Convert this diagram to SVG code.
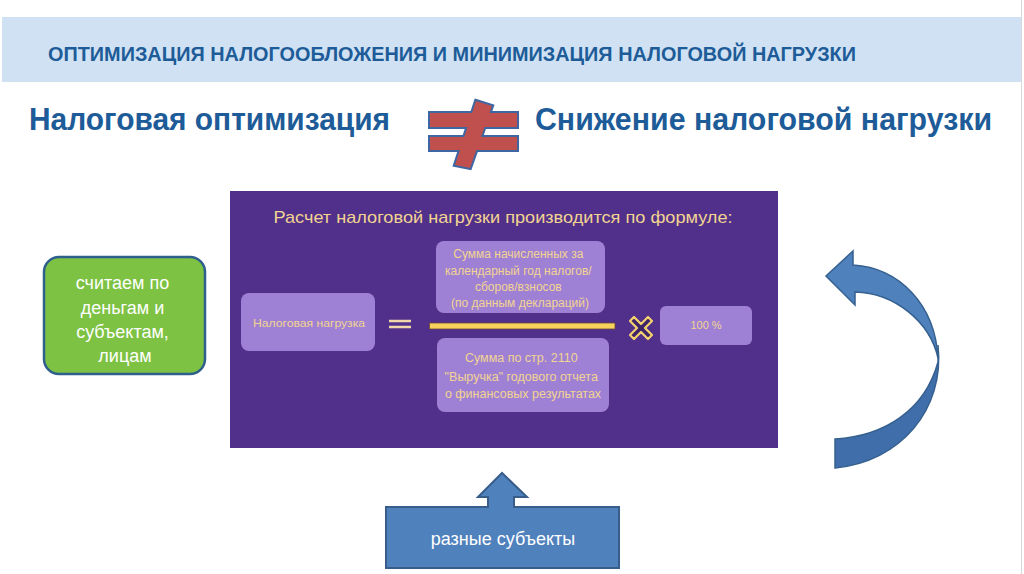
<svg xmlns="http://www.w3.org/2000/svg" width="1024" height="574" viewBox="0 0 1024 574">
<style>
.hdr{font-family:"Liberation Sans",Arial,sans-serif;font-weight:bold;fill:#1d5c98}
.gold{font-family:"Liberation Sans",Arial,sans-serif;fill:#f2d492;text-anchor:middle}
.lbox{fill:#9e81d4}
.wt{font-family:"Liberation Sans",Arial,sans-serif;fill:#ffffff;text-anchor:middle}
</style>
<rect x="0" y="0" width="1024" height="574" fill="#ffffff"/>
<line x1="1021.5" y1="0" x2="1021.5" y2="574" stroke="#d8d8d8" stroke-width="1"/>
<g id="header">
<rect x="2" y="17" width="1019" height="65" fill="#cfe1f3"/>
<text class="hdr" x="48" y="61" font-size="20" textLength="808" lengthAdjust="spacingAndGlyphs">ОПТИМИЗАЦИЯ НАЛОГООБЛОЖЕНИЯ И МИНИМИЗАЦИЯ НАЛОГОВОЙ НАГРУЗКИ</text>
</g>
<g id="tax-optimization">
<text class="hdr" x="29" y="130" font-size="32" textLength="361" lengthAdjust="spacingAndGlyphs">Налоговая оптимизация</text>
</g>
<g id="not-equal">
<g fill="#c0504d" stroke="#3d66a3" stroke-width="4" stroke-linejoin="miter">
<rect x="430" y="113" width="87" height="14"/>
<rect x="430" y="137" width="87" height="13"/>
<polygon points="476,101 492,106 470,168 455,165"/>
</g>
<g fill="#c0504d">
<rect x="430" y="113" width="87" height="14"/>
<rect x="430" y="137" width="87" height="13"/>
<polygon points="476,101 492,106 470,168 455,165"/>
</g>
</g>
<g id="tax-burden-reduction">
<text class="hdr" x="535" y="130" font-size="32" textLength="457" lengthAdjust="spacingAndGlyphs">Снижение налоговой нагрузки</text>
</g>
<g id="formula-panel">
<rect x="230" y="191" width="548" height="257" fill="#50308a"/>
<text class="gold" x="503" y="223" font-size="17" textLength="459" lengthAdjust="spacingAndGlyphs" fill="#f5d89c">Расчет налоговой нагрузки производится по формуле:</text>
<rect class="lbox" x="241" y="293" width="134" height="58" rx="8"/>
<text class="gold" x="309" y="327" font-size="11.5" textLength="112" lengthAdjust="spacingAndGlyphs">Налоговая нагрузка</text>
<line x1="389" y1="321" x2="411" y2="321" stroke="#f0d6a8" stroke-width="2.5"/>
<line x1="389" y1="327" x2="411" y2="327" stroke="#f0d6a8" stroke-width="2.5"/>
<rect class="lbox" x="436" y="241" width="169" height="72" rx="8"/>
<text class="gold" font-size="12">
<tspan x="520" y="258">Сумма начисленных за</tspan>
<tspan x="520" y="275">календарный год налогов/</tspan>
<tspan x="520" y="291">сборов/взносов</tspan>
<tspan x="520" y="307">(по данным деклараций)</tspan>
</text>
<rect x="429.5" y="323" width="185.5" height="6" fill="#f7d35b" stroke="#6b4a3a" stroke-width="0.8"/>
<rect class="lbox" x="437" y="338" width="172" height="74" rx="8"/>
<text class="gold" font-size="12.5">
<tspan x="523" y="362">Сумма по стр. 2110</tspan>
<tspan x="523" y="381">"Выручка" годового отчета</tspan>
<tspan x="523" y="398">о финансовых результатах</tspan>
</text>
<path d="M630,321 L634,317 L641,324 L648,317 L652,321 L645,328 L652,335 L648,339 L641,332 L634,339 L630,335 L637,328 Z" fill="#3e2468" stroke="#f5d36e" stroke-width="2.2" stroke-linejoin="round"/>
<rect class="lbox" x="660" y="306" width="92" height="39" rx="6"/>
<text class="gold" x="706" y="329" font-size="11">100 %</text>
</g>
<g id="count-box">
<rect x="44" y="257" width="161" height="117" rx="15" fill="#7dc243" stroke="#2f5f8c" stroke-width="2.5"/>
<text class="wt" font-size="18">
<tspan x="125" y="289">считаем по</tspan>
<tspan x="125" y="314">деньгам и</tspan>
<tspan x="125" y="338">субъектам,</tspan>
<tspan x="125" y="362">лицам</tspan>
</text>
</g>
<g id="subjects-box">
<path d="M386,507 L488,507 L488,497 L478,497 L502,473 L527,497 L514,497 L514,507 L619,507 L619,568 L386,568 Z" fill="#4f81bd" stroke="#385d8a" stroke-width="2" stroke-linejoin="miter"/>
<text class="wt" x="503" y="545" font-size="18">разные субъекты</text>
</g>
<g id="connectors">
<path d="M938,345 C945,410 900,462 835,468 L835,439 C885,436 925,410 938,362 Z" fill="#3f6eab" stroke="#36608f" stroke-width="1.5"/>
<path d="M853,265 C900,268 935,305 938,358 C930,322 895,293 855,292 L855,305 L826,276 L853,251 Z" fill="#4f81bd" stroke="#36608f" stroke-width="1.5" stroke-linejoin="miter"/>
</g>
</svg>
